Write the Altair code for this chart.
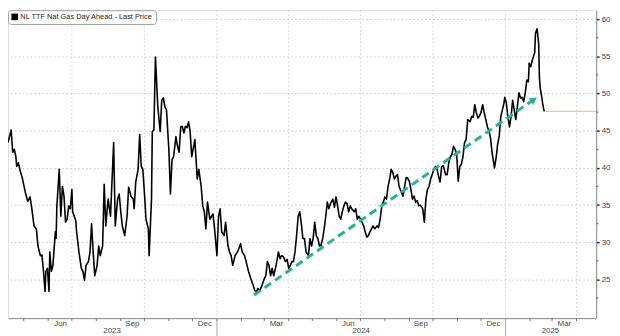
import altair as alt
import pandas as pd

# ---------------- data ----------------
start_date = "2023-04-01"          # day offsets below count from this date
series_name = "NL TTF Nat Gas Day Ahead - Last Price"

# (days after start_date, price EUR/MWh)
ttf_points = [
    (10, 43.4), (14, 45.1), (16, 42.1), (18, 42.5), (20, 41.5), (21, 40.2), (23, 40.7),
    (26, 39.4), (28, 38.7), (32, 36.7), (35, 35.5), (38, 36.1), (40, 34.7), (43, 32.2),
    (46, 31.8), (48, 29.5), (51, 28.2), (53, 28.3), (55, 26.1), (57, 23.4), (58, 26.1),
    (60, 26.5), (62, 23.4), (63, 28.7), (65, 26.1), (67, 26.9), (70, 31.4), (71, 30.5),
    (72, 34.9), (75, 39.8), (77, 33.5), (79, 37.5), (81, 36.2), (83, 32.7), (85, 33.1),
    (87, 34.9), (89, 34.5), (91, 37.1), (92, 34.1), (96, 32.9), (97, 31.4), (100, 28.7),
    (103, 26.5), (105, 26.1), (107, 24.9), (109, 26.9), (112, 27.4), (114, 28.7),
    (116, 32.5), (118, 28.7), (120, 25.5), (123, 26.9), (125, 29.5), (127, 28.2),
    (130, 29.5), (132, 37.8), (134, 32.2), (137, 35.8), (140, 33.5), (144, 43.4),
    (146, 32.2), (149, 35.8), (151, 36.5), (153, 34.1), (155, 32.2), (158, 30.9),
    (161, 33.5), (163, 37.4), (166, 36.2), (169, 35.8), (170, 34.5), (172, 38.1),
    (175, 39.8), (177, 44.5), (179, 40.2), (181, 39.8), (183, 36.7), (185, 33.1),
    (188, 31.8), (189, 28.2), (192, 35.8), (193, 44.9), (195, 45.1), (197, 54.9),
    (200, 48.2), (203, 44.9), (205, 49.1), (207, 49.4), (209, 48.2), (211, 47.8),
    (214, 42.5), (216, 36.5), (218, 41.1), (220, 41.5), (223, 44.2), (225, 42.9),
    (227, 42.1), (229, 45.5), (231, 45.6), (233, 44.7), (235, 45.6), (237, 45.4),
    (239, 46.2), (241, 44.9), (243, 41.5), (247, 43.8), (250, 38.5), (252, 39.8),
    (255, 37.5), (257, 34.9), (259, 34.1), (261, 31.8), (263, 35.4), (266, 33.1),
    (270, 33.8), (272, 31.8), (275, 28.2), (277, 33.5), (279, 34.5), (281, 31.4),
    (284, 30.9), (286, 32.7), (289, 29.5), (291, 28.7), (293, 28.2), (295, 26.9),
    (298, 28.2), (301, 28.7), (303, 29.2), (305, 29.8), (307, 28.7), (310, 28.2),
    (312, 27.4), (315, 26.1), (318, 25.1), (321, 24.2), (323, 23.5), (325, 23.4),
    (327, 23.8), (329, 23.4), (332, 24.2), (335, 25.1), (337, 25.5), (339, 27.4),
    (341, 26.9), (343, 25.5), (345, 26.5), (347, 25.5), (350, 26.9), (353, 28.7),
    (355, 27.8), (357, 28.2), (359, 28.1), (362, 27.4), (364, 27.7), (366, 26.5),
    (368, 26.9), (370, 27.4), (372, 27.4), (374, 28.7), (376, 30.9), (378, 33.5),
    (380, 34.1), (382, 32.5), (384, 30.5), (386, 30.5), (388, 28.7), (391, 28.2),
    (393, 30.5), (395, 29.5), (397, 30.5), (399, 32.7), (401, 30.9), (403, 30.5),
    (405, 29.5), (407, 29.6), (409, 30.5), (411, 31.8), (413, 33.5), (415, 35.4),
    (417, 34.5), (419, 35.2), (422, 35.8), (424, 34.7), (426, 36.1), (428, 34.9),
    (430, 33.5), (432, 33.1), (434, 34.1), (436, 34.9), (438, 35.4), (440, 35.2),
    (442, 34.1), (444, 34.9), (446, 34.5), (449, 34.1), (451, 34.5), (453, 33.1),
    (455, 33.5), (457, 33.1), (459, 32.7), (461, 32.2), (463, 31.4), (465, 30.7),
    (467, 30.9), (469, 31.4), (471, 31.8), (473, 32.2), (475, 31.8), (478, 32.2),
    (480, 32.0), (482, 33.1), (484, 34.9), (486, 35.4), (488, 36.1), (490, 35.8),
    (492, 37.5), (494, 38.5), (496, 39.8), (498, 39.4), (500, 38.5), (502, 38.9),
    (504, 39.1), (506, 37.5), (509, 36.7), (511, 36.2), (513, 37.5), (515, 38.7),
    (517, 38.6), (519, 38.2), (521, 37.1), (523, 35.8), (525, 36.2), (527, 35.4),
    (529, 35.6), (531, 34.9), (533, 35.0), (536, 34.5), (538, 32.7), (540, 35.8),
    (542, 37.1), (544, 37.5), (546, 38.5), (548, 39.1), (550, 39.8), (552, 40.2),
    (554, 39.9), (556, 38.9), (558, 38.1), (560, 40.2), (562, 40.3), (565, 39.1),
    (567, 39.1), (569, 40.7), (571, 41.5), (573, 41.8), (575, 42.9), (577, 42.5),
    (579, 41.9), (581, 38.2), (583, 40.2), (585, 40.5), (587, 41.5), (589, 43.4),
    (591, 43.8), (593, 46.5), (596, 46.2), (598, 46.9), (600, 46.8), (602, 48.5),
    (604, 47.4), (606, 46.7), (608, 47.0), (610, 47.5), (612, 48.5), (614, 47.4),
    (616, 46.5), (618, 45.5), (620, 45.0), (622, 44.0), (624, 42.0), (627, 40.0),
    (629, 41.3), (631, 43.2), (633, 44.3), (635, 46.9), (637, 47.8), (639, 48.7),
    (640, 49.5), (642, 48.7), (644, 46.9), (646, 45.5), (648, 46.9), (650, 49.1),
    (652, 47.8), (654, 46.5), (656, 48.2), (658, 50.1), (660, 49.4), (662, 49.5),
    (664, 48.9), (666, 50.1), (668, 51.8), (670, 51.6), (671, 54.1), (673, 53.6),
    (675, 54.5), (678, 55.5), (679, 58.1), (681, 58.7), (683, 56.7), (684, 52.1),
    (685, 50.7), (687, 49.5), (688, 48.7), (690, 47.6),
]

trend_days = [322, 677]
trend_values = [22.9, 49.2]

last_price_days = [690, 756]
last_price_values = [47.6, 47.6]

x_domain_days = [10, 756]
y_domain = [19.8, 61.2]
y_ticks = [25, 30, 35, 40, 45, 50, 55, 60]
y_minor_ticks = [22.5, 27.5, 32.5, 37.5, 42.5, 47.5, 52.5, 57.5]

month_label_dates = ["2023-06-16", "2023-09-15", "2023-12-16", "2024-03-16",
                     "2024-06-15", "2024-09-15", "2024-12-16", "2025-03-16"]
quarter_dates = ["2023-07-01", "2023-10-01", "2024-01-01", "2024-04-01",
                 "2024-07-01", "2024-10-01", "2025-01-01", "2025-04-01"]
month_start_dates = [d.strftime("%Y-%m-%d") for d in pd.date_range("2023-05-01", "2025-04-01", freq="MS")]
year_labels = ["2023", "2024", "2025"]
year_label_dates = ["2023-08-21", "2024-07-02", "2025-02-27"]
year_start_dates = ["2024-01-01", "2025-01-01"]

# ---------------- helpers ----------------
base = pd.Timestamp(start_date)


def day_to_str(d):
    return (base + pd.Timedelta(days=d)).strftime("%Y-%m-%d")


def to_ms(s):
    return int(pd.Timestamp(s).value // 10**6)


df = pd.DataFrame({
    "date": [day_to_str(d) for d, _ in ttf_points],
    "price": [v for _, v in ttf_points],
    "series": series_name,
})
trend_df = pd.DataFrame({"date": [day_to_str(d) for d in trend_days], "price": trend_values})
head_df = trend_df.iloc[[-1]]
last_df = pd.DataFrame({"date": [day_to_str(d) for d in last_price_days], "price": last_price_values})
quarter_df = pd.DataFrame({"date": quarter_dates})
month_df = pd.DataFrame({"date": month_start_dates})
yearsep_df = pd.DataFrame({"date": year_start_dates})
yearlab_df = pd.DataFrame({"date": year_label_dates, "label": year_labels})
minor_df = pd.DataFrame({"price": y_minor_ticks})

W, H = 596, 312
FONT = "Liberation Sans"
TEAL = "#22b39b"

x_scale = alt.Scale(type="utc", domain=[to_ms(day_to_str(x_domain_days[0])), to_ms(day_to_str(x_domain_days[1]))])
y_scale = alt.Scale(domain=y_domain, nice=False, zero=False)

x_enc = alt.X(
    "date:T", scale=x_scale, title=None,
    axis=alt.Axis(values=[to_ms(d) for d in month_label_dates],
                  labelExpr="utcFormat(datum.value, '%b')",
                  tickSize=0, grid=False, domainColor="#8a8a8a", domainWidth=1,
                  labelFontSize=8, labelFont=FONT, labelColor="#444", labelPadding=1,
                  labelFlush=False, labelOverlap=False),
)
y_enc = alt.Y(
    "price:Q", scale=y_scale, title=None,
    axis=alt.Axis(orient="right", values=y_ticks, grid=True, gridDash=[1.5, 2.5],
                  gridColor="#c4c4c4", gridWidth=1, tickSize=3, tickWidth=1.5, tickColor="#333",
                  domainColor="#8a8a8a", labelFontSize=8, labelFont=FONT, labelColor="#444",
                  labelPadding=2),
)

vgrid = alt.Chart(quarter_df).mark_rule(color="#cccccc", strokeDash=[1.5, 2.5], strokeWidth=1).encode(x=x_enc)

month_ticks = alt.Chart(month_df).mark_rule(color="#777", strokeWidth=1).encode(
    x=x_enc, y=alt.value(H), y2=alt.value(H + 3))

year_sep = alt.Chart(yearsep_df).mark_rule(color="#aaa", strokeWidth=1).encode(
    x=x_enc, y=alt.value(H), y2=alt.value(H + 30))

year_text = alt.Chart(yearlab_df).mark_text(fontSize=8, font=FONT, color="#444", baseline="middle").encode(
    x=x_enc, y=alt.value(H + 13), text="label:N")

minor = alt.Chart(minor_df).mark_rule(color="#555", strokeWidth=1).encode(
    y=y_enc, x=alt.value(W), x2=alt.value(W + 2))

price_line = alt.Chart(df).mark_line(strokeWidth=1.6, interpolate="linear", strokeJoin="round").encode(
    x=x_enc, y=y_enc,
    color=alt.Color("series:N",
                    scale=alt.Scale(domain=[series_name], range=["#000000"]),
                    legend=alt.Legend(title=None, orient="none", legendX=0, legendY=0,
                                      symbolType="square", symbolSize=45,
                                      symbolFillColor="#000", symbolStrokeWidth=0,
                                      labelFont=FONT, labelFontSize=7.5, labelColor="#222",
                                      strokeColor="#a0a0a0", fillColor="white",
                                      cornerRadius=3, padding=3, rowPadding=0,
                                      labelOffset=2)),
)

last_line = alt.Chart(last_df).mark_line(color="#f6c48f", strokeWidth=1.2).encode(x=x_enc, y=y_enc)

trend = alt.Chart(trend_df).mark_line(color=TEAL, strokeWidth=3, strokeDash=[8, 5]).encode(x=x_enc, y=y_enc)

head = alt.Chart(head_df).mark_point(shape="triangle-right", filled=True, size=70, angle=325,
                                      color=TEAL, opacity=1).encode(x=x_enc, y=y_enc)

chart = alt.layer(
    vgrid, minor, month_ticks, year_sep, year_text, last_line, price_line, trend, head
).properties(
    width=W, height=H,
    autosize=alt.AutoSizeParams(type="none"),
    padding={"left": 0, "top": 0, "right": 16, "bottom": 28},
).configure_view(stroke=None).configure(background="white")

chart.save("out.html", embed_options={"renderer": "svg", "actions": False})
